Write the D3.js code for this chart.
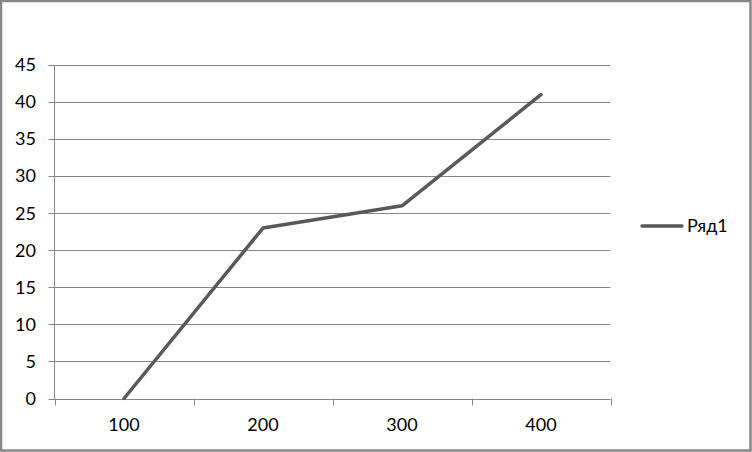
<!DOCTYPE html>
<html><head><meta charset="utf-8">
<script src="https://cdn.jsdelivr.net/npm/d3@7"></script>
<style>body{margin:0;background:#fff}svg{display:block}</style>
</head><body>
<script>
const categories = ["100", "200", "300", "400"];
const values = [0, 23, 26, 41];
const yTicks = [0, 5, 10, 15, 20, 25, 30, 35, 40, 45];
const seriesName = "Ряд1";

const W = 752, H = 452;
const m = {left: 54.5, right: 610.5, top: 65, bottom: 398.5};
const font = "Lato, 'Open Sans', sans-serif";
const fs = 18;
const svg = d3.select("body").append("svg").attr("width", W).attr("height", H);

svg.append("rect").attr("x", 1).attr("y", 1).attr("width", W - 2.5).attr("height", H - 2.5)
  .attr("fill", "#fff").attr("stroke", "#868686").attr("stroke-width", 2.5);

const x = d3.scaleBand().domain(categories).range([m.left, m.right]);
const y = d3.scaleLinear().domain([0, 45]).range([m.bottom, m.top]);

// gridlines
svg.append("g").selectAll("line").data(yTicks).join("line")
  .attr("x1", m.left - 6).attr("x2", m.right)
  .attr("y1", d => Math.round(y(d)) + 0.5).attr("y2", d => Math.round(y(d)) + 0.5)
  .attr("stroke", "#868686").attr("stroke-width", 1);

// y axis line
svg.append("line").attr("x1", m.left).attr("x2", m.left).attr("y1", m.top).attr("y2", m.bottom)
  .attr("stroke", "#868686");

// y labels
svg.append("g").selectAll("text").data(yTicks).join("text")
  .attr("x", 36).attr("y", d => y(d)).attr("dy", "0.35em")
  .attr("text-anchor", "end").attr("font-family", font).attr("font-size", fs).attr("fill", "#000")
  .text(d => d);

// x axis ticks
const xTickPos = categories.map(c => x(c)).concat([x(categories[categories.length - 1]) + x.bandwidth()]);
svg.append("g").selectAll("line").data(xTickPos).join("line")
  .attr("x1", d => Math.round(d) + 0.5).attr("x2", d => Math.round(d) + 0.5)
  .attr("y1", m.bottom).attr("y2", m.bottom + 7)
  .attr("stroke", "#868686");

svg.append("g").selectAll("text").data(categories).join("text")
  .attr("x", d => x(d) + x.bandwidth() / 2).attr("y", 425).attr("dy", "0.35em")
  .attr("text-anchor", "middle").attr("font-family", font).attr("font-size", fs).attr("fill", "#000")
  .text(d => d);

// series line
const line = d3.line().x((d, i) => x(categories[i]) + x.bandwidth() / 2).y(d => y(d));
svg.append("path").datum(values).attr("d", line)
  .attr("fill", "none").attr("stroke", "#595959").attr("stroke-width", 3.5)
  .attr("stroke-linejoin", "round").attr("stroke-linecap", "round");

// legend
svg.append("line").attr("x1", 642).attr("x2", 682).attr("y1", 226).attr("y2", 226)
  .attr("stroke", "#595959").attr("stroke-width", 3.5).attr("stroke-linecap", "round");
svg.append("text").attr("x", 687).attr("y", 226).attr("dy", "0.35em")
  .attr("font-family", font).attr("font-size", fs).attr("fill", "#000").text(seriesName);
</script>
</body></html>
